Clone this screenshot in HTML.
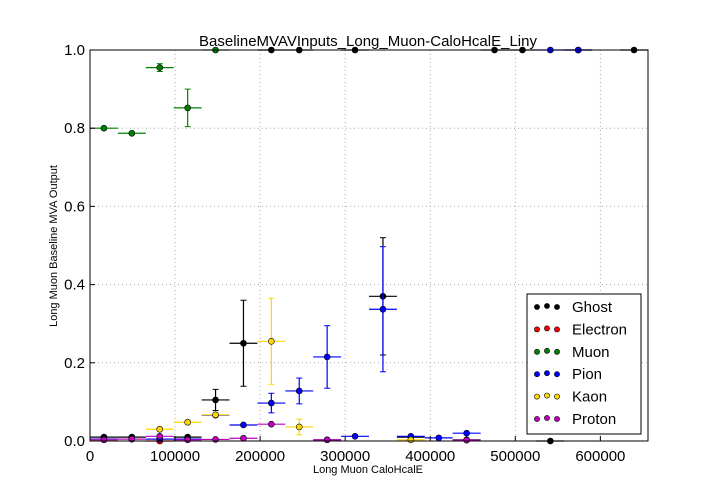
<!DOCTYPE html>
<html><head><meta charset="utf-8">
<style>
body{margin:0;background:#fff;}
svg{display:block;font-family:"Liberation Sans","DejaVu Sans",sans-serif;}
</style></head>
<body>
<svg id="chart" width="720" height="504" viewBox="0 0 720 504">
<rect width="720" height="504" fill="#fff"/>
<text x="368" y="46" font-size="15" text-anchor="middle">BaselineMVAVInputs_Long_Muon-CaloHcalE_Liny</text>
<text x="368" y="473" font-size="11" text-anchor="middle">Long Muon CaloHcalE</text>
<text transform="translate(57,246) rotate(-90)" font-size="11" text-anchor="middle">Long Muon Baseline MVA Output</text>
<g id="grid"></g>
<g id="marks"></g>
<rect x="90" y="50" width="558" height="391" fill="none" stroke="#000" stroke-width="1"/>
<g id="ticks"></g>
<g id="legend"></g>
</svg>
<script>
const xTicks=[0,100000,200000,300000,400000,500000,600000];
const yTicks=[0.0,0.2,0.4,0.6,0.8,1.0];
const binCenters=[16400,49200,82000,114800,147600,180400,213200,246000,278800,311600,344400,377200,410000,442800,475600,508400,541200,574000,606800,639600];
const binHalfWidth=16400;
const seriesNames=["Ghost","Electron","Muon","Pion","Kaon","Proton"];
const seriesColors=["#000000","#ff0000","#008000","#0000ff","#ffd700","#bf00bf"];
const ghostVals=[0.01,0.01,0.005,0.01,0.105,0.25,1.0,1.0,0.003,1.0,0.37,0.01,null,0.003,1.0,1.0,0.0,1.0,null,1.0];
const ghostErrs=[0.003,0.003,0.003,0.003,0.027,0.11,0,0,0,0,0.15,0,0,0,0,0,0,0,0,0];
const electronVals=[null,null,0.0,null,null,null,null,null,null,null,null,null,null,null,null,null,null,null,null,null];
const electronErrs=[0,0,0,0,0,0,0,0,0,0,0,0,0,0,0,0,0,0,0,0];
const muonVals=[0.80,0.787,0.955,0.852,1.0,null,null,null,null,null,null,null,null,null,null,null,null,null,null,null];
const muonErrs=[0.003,0.003,0.01,0.048,0,0,0,0,0,0,0,0,0,0,0,0,0,0,0,0];
const pionVals=[0.005,0.005,0.005,0.005,0.066,0.041,0.097,0.128,0.215,0.012,0.337,0.012,0.008,0.02,null,null,1.0,1.0,null,null];
const pionErrs=[0,0,0,0,0.003,0.003,0.025,0.033,0.08,0,0.16,0,0,0,0,0,0,0,0,0];
const kaonVals=[0.003,0.005,0.03,0.048,0.067,null,0.255,0.036,null,null,null,0.003,null,null,null,null,null,null,null,null];
const kaonErrs=[0,0,0,0,0.003,0,0.11,0.02,0,0,0,0,0,0,0,0,0,0,0,0];
const protonVals=[0.003,0.005,0.012,0.003,0.004,0.007,0.043,null,0.003,null,null,null,null,0.002,null,null,null,null,null,null];
const protonErrs=[0,0,0,0,0,0,0,0,0,0,0,0,0,0,0,0,0,0,0,0];

const X0=90,X1=648,Y0=441,Y1=50,XMAX=656000;
const sx=v=>X0+v/XMAX*(X1-X0);
const sy=v=>Y0-v*(Y0-Y1);
const NS="http://www.w3.org/2000/svg";
function mk(tag,attrs,parent){const e=document.createElementNS(NS,tag);for(const k in attrs)e.setAttribute(k,attrs[k]);parent.appendChild(e);return e;}
const grid=document.getElementById('grid'),ticks=document.getElementById('ticks'),marks=document.getElementById('marks'),legend=document.getElementById('legend');
xTicks.forEach(t=>{
  const x=sx(t);
  const g=mk('line',{x1:x,x2:x,y1:Y1,y2:Y0,stroke:'#aaa','stroke-dasharray':'1,3'},grid);
  
  
  mk('line',{x1:x,x2:x,y1:Y0,y2:Y0-5,stroke:'#000'},ticks);
  const tx=mk('text',{x:x,y:Y0+20,'font-size':15,'text-anchor':'middle'},ticks);
  tx.textContent=String(t);
  
  
});
yTicks.forEach(t=>{
  const y=sy(t);
  const g=mk('line',{x1:X0,x2:X1,y1:y,y2:y,stroke:'#aaa','stroke-dasharray':'1,3'},grid);
  
  
  mk('line',{x1:X0,x2:X0+5,y1:y,y2:y,stroke:'#000'},ticks);
  const tx=mk('text',{x:X0-5,y:y+5,'font-size':15,'text-anchor':'end'},ticks);
  tx.textContent=t.toFixed(1);
  
  
});
const allVals=[ghostVals,electronVals,muonVals,pionVals,kaonVals,protonVals];
const allErrs=[ghostErrs,electronErrs,muonErrs,pionErrs,kaonErrs,protonErrs];
allVals.forEach((vals,si)=>{
  const c=seriesColors[si];
  const g=mk('g',{},marks);
  
  
  vals.forEach((v,i)=>{
    if(v===null)return;
    const cx=sx(binCenters[i]),cy=sy(v),e=allErrs[si][i];
    mk('line',{x1:sx(binCenters[i]-binHalfWidth),x2:sx(binCenters[i]+binHalfWidth),y1:cy,y2:cy,stroke:c,'stroke-width':1.2},g);
    if(e>0){
      mk('line',{x1:cx,x2:cx,y1:sy(Math.min(1,v+e)),y2:sy(Math.max(0,v-e)),stroke:c,'stroke-width':1.2},g);
      mk('line',{x1:cx-3,x2:cx+3,y1:sy(Math.min(1,v+e)),y2:sy(Math.min(1,v+e)),stroke:c},g);
      mk('line',{x1:cx-3,x2:cx+3,y1:sy(Math.max(0,v-e)),y2:sy(Math.max(0,v-e)),stroke:c},g);
    }
    const p=mk('circle',{cx:cx,cy:cy,r:3,fill:c,stroke:'#000','stroke-width':0.6},g);
    
    
  });
});
mk('rect',{x:527,y:294,width:114,height:140,fill:'#fff',stroke:'#000'},legend);
seriesNames.forEach((n,i)=>{
  const y=307+i*22.4;
  const g=mk('g',{},legend);
  
  
  [537,547,557].forEach((x,k)=>mk('circle',{cx:x,cy:y+(k==1?-1:0),r:2.6,fill:seriesColors[i],stroke:'#000','stroke-width':0.6},g));
  const t=mk('text',{x:572,y:y+5,'font-size':15},g);
  t.textContent=n;
});
</script>
</body></html>
